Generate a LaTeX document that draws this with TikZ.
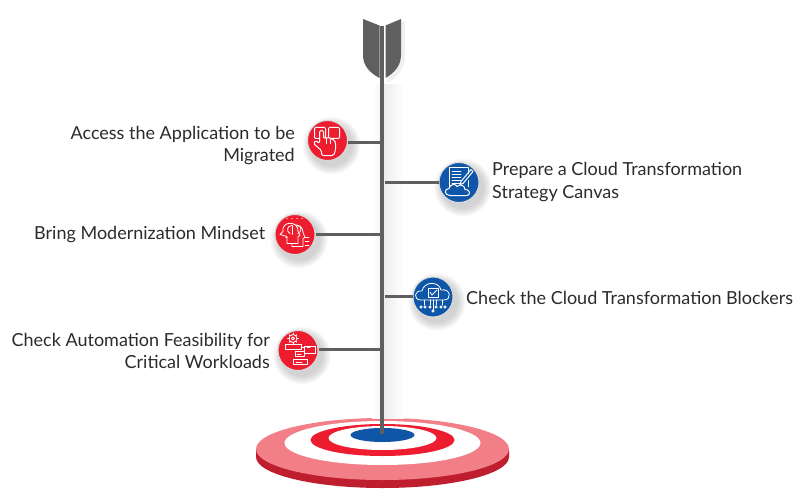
\documentclass[tikz,border=0pt]{standalone}
\usepackage{fontspec}
\setmainfont{Lato}
\definecolor{redcol}{HTML}{ED1C2E}
\definecolor{bluecol}{HTML}{0F56A8}
\definecolor{shaftcol}{HTML}{5F5F5F}
\definecolor{rimcol}{HTML}{F27F87}
\definecolor{sidecol}{HTML}{BE1E2D}
\definecolor{textcol}{HTML}{2B2B2B}
\tikzset{
  badge/.style={circle,draw=black!15,line width=1pt,minimum size=40pt,inner sep=0pt},
  redbadge/.style={badge,fill=redcol},
  bluebadge/.style={badge,fill=bluecol},
  lbl/.style={font=\fontsize{18}{22.5}\selectfont,text=textcol,inner sep=0pt},
  lblleft/.style={lbl,anchor=east,align=right},
  lblright/.style={lbl,anchor=west,align=left},
  branch/.style={draw=shaftcol,line width=3pt},
  icon/.style={draw=white,line width=1pt,line join=round,line cap=round}
}
\newcommand{\softshadow}[2]{%
  \foreach \rr in {8,...,1}
    \fill[black,opacity=0.022] (#1) ++(4,5) circle ({#2+\rr*1.1});
}
\begin{document}
\begin{tikzpicture}[x=1pt,y=-1pt]
  \useasboundingbox (0,0) rectangle (800,500);
  % target
  \fill[sidecol] (256,449) -- (256,457) arc[start angle=180,end angle=0,x radius=126.5,y radius=31] -- (509,449) -- cycle;
  \fill[rimcol ] (382.5,449) ellipse[x radius=126.5,y radius=31];
  \fill[white  ] (382.5,443) ellipse[x radius=98,y radius=22];
  \fill[redcol ] (382.5,440) ellipse[x radius=72,y radius=16];
  \fill[white  ] (382.5,438) ellipse[x radius=54,y radius=12];
  \fill[bluecol] (382.5,435) ellipse[x radius=32,y radius=7];
  % soft band beside the shaft
  \shade[left color=black!7,right color=white] (384,85) rectangle (404,418);
  \shade[left color=white,right color=black!3] (372,85) rectangle (380,418);
  % feathers
  \fill[black!6] (387,26) -- (405,21) -- (405,56) .. controls (405,70) and (396,78) .. (387,83) -- cycle;
  \fill[shaftcol] (363,19) -- (379.5,25.5) -- (379.5,78) .. controls (370,73) and (363,66) .. (363,55) -- cycle;
  \fill[shaftcol] (401,19) -- (385.5,25.5) -- (385.5,78) .. controls (394,73) and (401,66) .. (401,55) -- cycle;
  % shaft
  \coordinate (tip) at (382.4,434);
  \coordinate (tail) at (382.4,26);
  \draw[draw=shaftcol,line width=4pt] (tail) -- (tip);
  \coordinate (b1) at (382,142);
  \coordinate (b2) at (385,182);
  \coordinate (b3) at (382,234);
  \coordinate (b4) at (385,296);
  \coordinate (b5) at (382,349);
  % badges
  \softshadow{327.5,140.5}{20}
  \softshadow{459,182.5}{20}
  \softshadow{295,234.5}{20}
  \softshadow{433,297}{20}
  \softshadow{298,350.5}{20}
  \node[redbadge ] (access)  at (327.5,140.5) {};
  \node[bluebadge] (prepare) at (459,182.5) {};
  \node[redbadge ] (mindset) at (295,234.5) {};
  \node[bluebadge] (block)   at (433,297) {};
  \node[redbadge ] (auto)    at (298,350.5) {};
  \draw[branch] (access.east |- b1) -- (b1);
  \draw[branch] (prepare.west |- b2) -- (b2);
  \draw[branch] (mindset.east |- b3) -- (b3);
  \draw[branch] (block.west |- b4) -- (b4);
  \draw[branch] (auto.east |- b5) -- (b5);
  % hand icon
  \begin{scope}[shift={(access.center)},icon]
    \draw[rounded corners=1pt] (-13,-13) rectangle (-2,-2);
    \draw[rounded corners=1pt] (1,-13) rectangle (12,-2);
    \draw[fill=redcol,rounded corners=1.5pt] (-6,15) -- (-6,10) -- (-14,3) -- (-12,0) -- (-8,3)
      -- (-8,-10) -- (-4,-10) -- (-4,-2) -- (0,-3) -- (4,-2) -- (7,0) -- (8,2) -- (8,10) -- (6,15) -- cycle;
    \draw (-1,-2) -- (-1,3);
    \draw (3,-1) -- (3,3);
  \end{scope}
  % canvas icon
  \begin{scope}[shift={(prepare.center)},icon]
    \draw (-10,6) -- (-10,-15) -- (9,-15) -- (9,-9);
    \draw (9,-2) -- (9,4);
    \foreach \yy in {-11,-8,-5,-2,1}
      \draw[line width=0.8pt] (-7,\yy) -- (2,\yy);
    \draw (2,-1) -- (12,-13) -- (14,-11) -- (4,1) -- (1,2) -- cycle;
    \draw[fill=bluecol] (-9,13) .. controls (-15,13) and (-15,6) .. (-10,6)
      .. controls (-9,1) and (-3,1) .. (-2,4) .. controls (1,1) and (6,3) .. (6,7)
      .. controls (11,6) and (12,13) .. (8,13) -- cycle;
  \end{scope}
  % mindset icon
  \begin{scope}[shift={(mindset.center)},icon,line width=0.8pt]
    \draw[fill=redcol] (-3,9) -- (-3,5) -- (-9,3) -- (-7,1) .. controls (-10,-12) and (8,-13) .. (8,-2) -- (10,3) -- (8,4) -- (8,12) -- (-3,12) -- cycle;
    \draw[fill=redcol] (-8,6) -- (-8,2) -- (-15,0) -- (-12,-3) .. controls (-14,-14) and (4,-14) .. (3,-3) -- (5,1) -- (3,2) -- (3,9) -- (-8,9) -- cycle;
    \draw (-3,-9) .. controls (-8,-9) and (-9,-3) .. (-5,-1);
    \draw (-3,-9) -- (-3,0);
    \draw (2,-9) .. controls (7,-9) and (7,-3) .. (3,-1);
    \foreach \yy in {3,7,11}
      \draw (10,\yy) -- (14,\yy);
    \foreach \xx in {-8,-3,2,7}
      \fill[white] (\xx,-16) circle (0.7);
  \end{scope}
  % blockers icon
  \begin{scope}[shift={(block.center)},icon,line width=0.8pt]
    \draw (-12,3) .. controls (-20,3) and (-19,-7) .. (-11,-6)
      .. controls (-9,-16) and (6,-16) .. (8,-7) .. controls (18,-9) and (19,3) .. (11,3) -- cycle;
    \draw (-5,-9) rectangle (5,0);
    \draw (-3,-5) -- (-1,-2) -- (4,-7);
    \foreach \xx in {-9,-3,3,9}
      \draw (\xx,3) -- (\xx,8);
    \foreach \xx in {-12,-8,-3,3,8,12}
      \draw (\xx,10) circle (1.2);
    \draw (0,3) -- (0,13);
    \draw (0,14) circle (1.2);
  \end{scope}
  % automation icon
  \begin{scope}[shift={(auto.center)},icon,line width=0.8pt]
    \draw (-5,-12) circle (4);
    \draw (-5,-12) circle (1.5);
    \foreach \aa in {0,45,...,315}
      \draw (-5,-12) ++(\aa:4) -- ++(\aa:1.5);
    \draw (-13,-6) rectangle (3,-1);
    \draw (6,-4) rectangle (17,3);
    \draw (-3,1) rectangle (6,6);
    \draw (-5,9) rectangle (9,14);
    \draw (3,-3) -- (6,-3);
    \draw (9,-3) -- (12,-3);
    \draw (-1,3.5) -- (3,3.5);
    \draw (-2,11.5) -- (4,11.5);
  \end{scope}
  % labels
  \node[lblleft ] (txtaccess)  at (295,145.5)  {Access the Application to be\\Migrated};
  \node[lblright] (txtprepare) at (492,182) {Prepare a Cloud Transformation\\Strategy Canvas};
  \node[lblleft ] (txtmindset) at (265.5,235) {Bring Modernization Mindset};
  \node[lblright] (txtblock)   at (466,298)  {Check the Cloud Transformation Blockers};
  \node[lblleft ] (txtauto)    at (270,351)  {Check Automation Feasibility for\\Critical Workloads};
\end{tikzpicture}
\end{document}
